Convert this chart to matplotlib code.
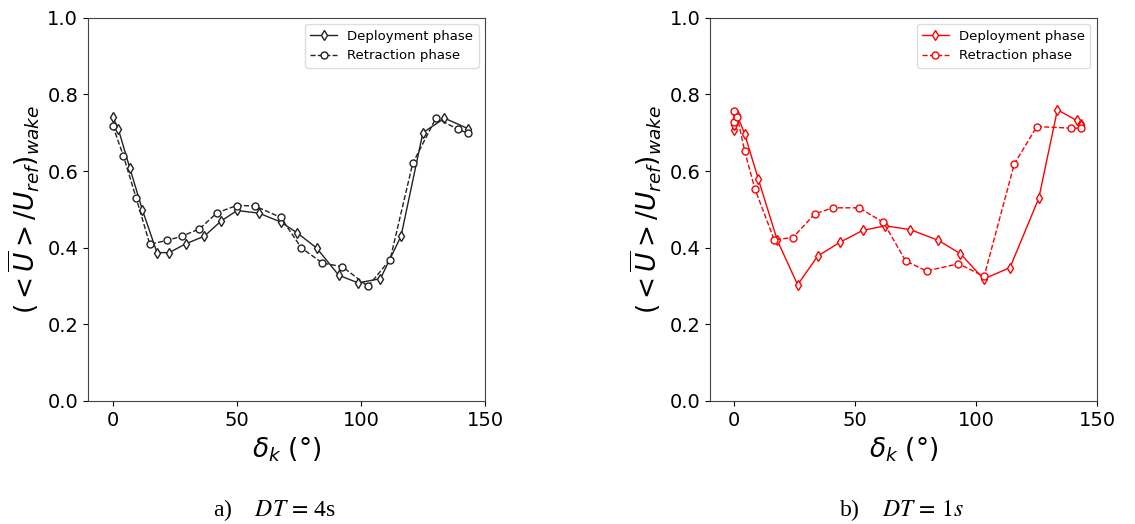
import numpy as np
import matplotlib.pyplot as plt

# DT = 4s, deployment / retraction
x4_dep = [0, 2.2, 6.8, 11.9, 17.8, 22.7, 29.4, 36.9, 43.7, 50.1, 58.9, 67.6, 74.2,
          82.1, 91.0, 98.8, 107.8, 116.1, 124.9, 133.6, 143.0]
y4_dep = [0.741, 0.71, 0.609, 0.499, 0.387, 0.387, 0.41, 0.43, 0.47, 0.497, 0.49, 0.467,
          0.439, 0.399, 0.328, 0.308, 0.319, 0.43, 0.70, 0.738, 0.711]
x4_ret = [0, 4.3, 9.4, 14.9, 21.9, 27.9, 34.9, 42.0, 49.9, 57.2, 67.6, 76.0, 84.4,
          92.5, 102.8, 111.7, 120.8, 130.2, 138.9, 143.0]
y4_ret = [0.718, 0.639, 0.53, 0.409, 0.419, 0.43, 0.449, 0.491, 0.51, 0.509, 0.479,
          0.399, 0.36, 0.35, 0.299, 0.369, 0.62, 0.739, 0.709, 0.699]

# DT = 1s, deployment / retraction
x1_dep = [0, 0, 0.3, 0.6, 1.3, 4.3, 10.0, 17.8, 26.2, 34.5, 43.7, 53.1, 62.4, 72.8,
          84.4, 93.5, 103.1, 114.0, 125.9, 133.6, 141.5, 143.2, 143.4]
y1_dep = [0.706, 0.719, 0.732, 0.745, 0.745, 0.697, 0.578, 0.419, 0.303, 0.378, 0.414,
          0.445, 0.457, 0.447, 0.419, 0.384, 0.318, 0.348, 0.529, 0.76, 0.732, 0.723, 0.719]
x1_ret = [0, 0, 1.3, 4.3, 8.5, 16.5, 24.2, 33.3, 40.7, 51.6, 61.7, 70.9, 79.5, 92.7,
          103.3, 115.8, 125.1, 139.2, 143.2]
y1_ret = [0.728, 0.756, 0.741, 0.652, 0.554, 0.421, 0.426, 0.488, 0.504, 0.504, 0.466,
          0.365, 0.339, 0.358, 0.325, 0.619, 0.716, 0.712, 0.712]

fig = plt.figure(figsize=(11.35, 5.24), dpi=100)
ax1 = fig.add_axes([0.0775, 0.235, 0.350, 0.731])
ax2 = fig.add_axes([0.6256, 0.235, 0.341, 0.731])

panels = [(ax1, x4_dep, y4_dep, x4_ret, y4_ret, "#222222"),
          (ax2, x1_dep, y1_dep, x1_ret, y1_ret, "red")]

for ax, xd, yd, xr, yr, c in panels:
    ax.plot(xd, yd, "-", color=c, lw=1.0, marker="d", ms=5, mfc="white",
            mec=c, mew=1.0, label="Deployment phase")
    ax.plot(xr, yr, "--", color=c, lw=1.0, marker="o", ms=5, mfc="white",
            mec=c, mew=1.0, label="Retraction phase")
    ax.set_xlim(-10, 150)
    ax.set_ylim(0, 1.0)
    ax.set_xticks([0, 50, 100, 150])
    ax.set_yticks([0.0, 0.2, 0.4, 0.6, 0.8, 1.0])
    ax.tick_params(labelsize=14)
    ax.set_xlabel(r"$\delta_k$ (°)", fontsize=19)
    ax.set_ylabel(r"$( <\overline{U}> /U_{ref})_{wake}$", fontsize=19)
    for s in ax.spines.values():
        s.set_color("#444444")
    ax.legend(loc="upper right", fontsize=9.5, framealpha=1, edgecolor="#dddddd")

# captions
fig.text(0.2423, 0.016, r"a)    $DT\,=\,$4s", fontsize=17, family="Liberation Serif",
         math_fontfamily="stix", ha="center", va="baseline")
fig.text(0.7938, 0.016, r"b)    $DT\,=\,1s$", fontsize=17, family="Liberation Serif",
         math_fontfamily="stix", ha="center", va="baseline")

fig.savefig("out.png", dpi=100)
